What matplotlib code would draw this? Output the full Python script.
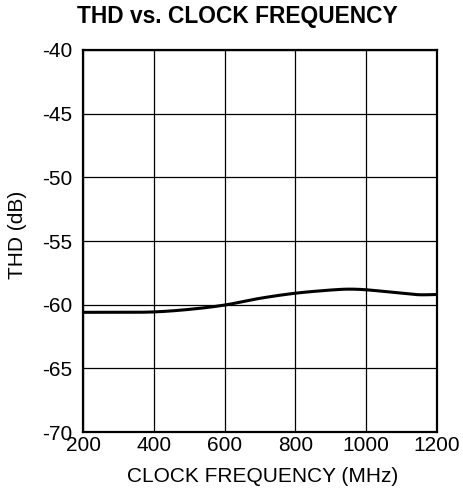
import matplotlib
matplotlib.use("Agg")
import matplotlib.pyplot as plt
import numpy as np

freq_mhz = [200, 300, 400, 500, 600, 700, 800, 900, 950, 1000, 1100, 1150, 1200]
thd_db = [-60.6, -60.6, -60.57, -60.37, -60.03, -59.5, -59.1, -58.85, -58.78, -58.83, -59.1, -59.22, -59.2]

x_ticks = [200, 400, 600, 800, 1000, 1200]
y_ticks = [-40, -45, -50, -55, -60, -65, -70]

plt.rcParams['font.family'] = ['Liberation Sans', 'DejaVu Sans']

fig = plt.figure(figsize=(4.63, 5.01), dpi=100)
ax = fig.add_axes([0.1793, 0.1377, 0.9438 - 0.1793, 0.9002 - 0.1377])


def catmull(x, y, xq):
    out = np.empty_like(xq)
    n = len(x)
    m = np.zeros(n)
    for i in range(n):
        if i == 0:
            m[i] = (y[1] - y[0]) / (x[1] - x[0])
        elif i == n - 1:
            m[i] = (y[-1] - y[-2]) / (x[-1] - x[-2])
        else:
            m[i] = (y[i + 1] - y[i - 1]) / (x[i + 1] - x[i - 1])
    for k, q in enumerate(xq):
        i = min(np.searchsorted(x, q, side='right') - 1, n - 2)
        h = x[i + 1] - x[i]
        t = (q - x[i]) / h
        h00 = 2 * t**3 - 3 * t**2 + 1
        h10 = t**3 - 2 * t**2 + t
        h01 = -2 * t**3 + 3 * t**2
        h11 = t**3 - t**2
        out[k] = h00 * y[i] + h10 * h * m[i] + h01 * y[i + 1] + h11 * h * m[i + 1]
    return out


xs = np.array(freq_mhz, dtype=float)
ys = np.array(thd_db, dtype=float)
xf = np.linspace(xs[0], xs[-1], 400)
yf = catmull(xs, ys, xf)
ax.plot(xf, yf, color='black', lw=2.2, solid_capstyle='butt', zorder=3)

ax.set_xlim(200, 1200)
ax.set_ylim(-70, -40)
ax.set_xticks(x_ticks)
ax.set_yticks(y_ticks)
ax.set_xticklabels([str(v) for v in x_ticks])
ax.set_yticklabels([str(v) for v in y_ticks])
ax.grid(True, color='black', lw=0.9)
ax.set_axisbelow(True)
ax.tick_params(axis='x', length=0, labelsize=15, pad=3)
ax.tick_params(axis='y', length=0, labelsize=15, pad=8)
for s in ax.spines.values():
    s.set_linewidth(1.6)
    s.set_color('black')

fig.text(262.5 / 463, 1 - 476 / 501, 'CLOCK FREQUENCY (MHz)', fontsize=15,
         ha='center', va='center')
fig.text(18 / 463, 1 - 235 / 501, 'THD (dB)', fontsize=15, rotation=90,
         ha='center', va='center')
fig.text(237.5 / 463, 1 - 17 / 501, 'THD vs. CLOCK FREQUENCY', fontsize=16.4,
         fontweight='bold', ha='center', va='center')

fig.savefig('out.png', dpi=100)
